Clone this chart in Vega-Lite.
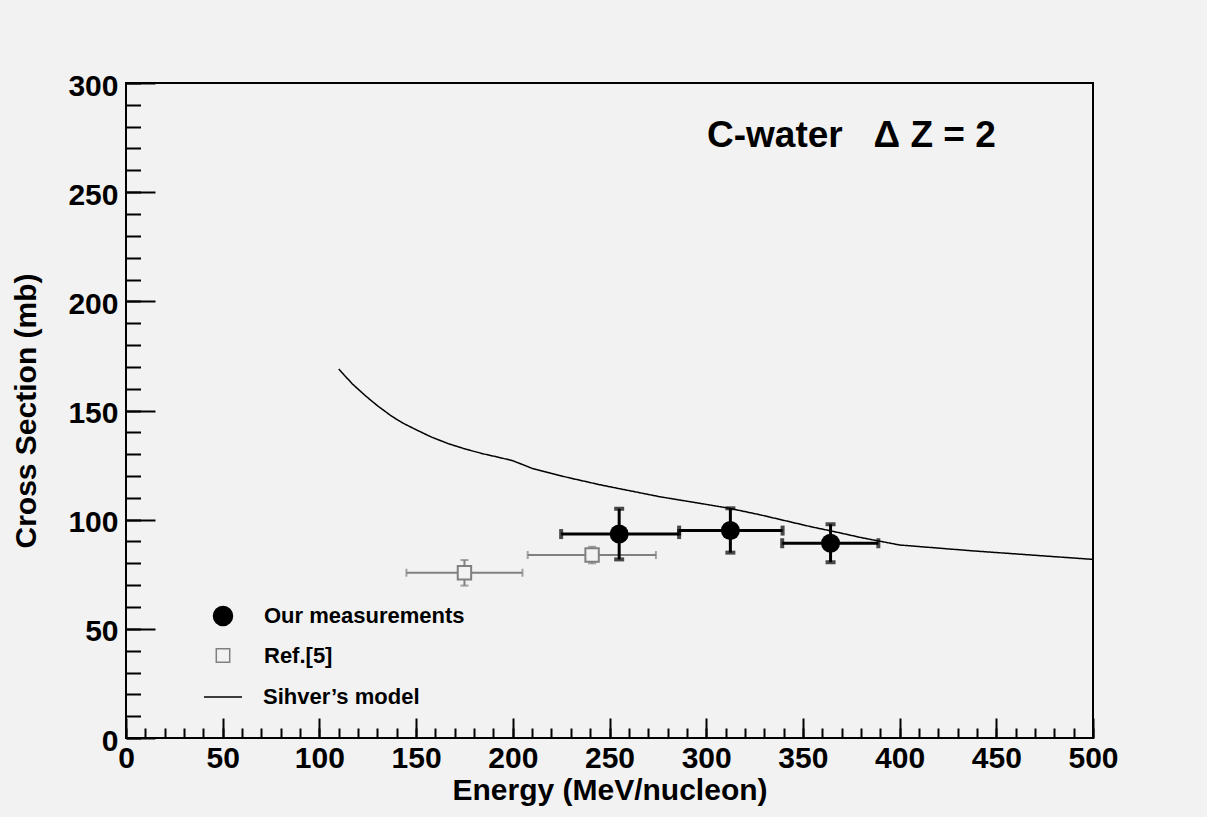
{
  "$schema": "https://vega.github.io/schema/vega-lite/v6.json",
  "width": 967,
  "height": 655,
  "autosize": {"type": "none"},
  "padding": {"left": 126, "top": 83, "right": 114, "bottom": 79},
  "background": "#f2f2f2",
  "title": {
    "text": "C-water\u00a0\u00a0\u00a0Δ\u00a0Z\u00a0=\u00a02",
    "anchor": "start",
    "frame": "group",
    "orient": "top",
    "offset": -113,
    "dx": 581,
    "baseline": "alphabetic",
    "font": "Liberation Sans",
    "fontSize": 37,
    "fontWeight": "bold",
    "color": "black"
  },
  "resolve": {"axis": {"x": "independent", "y": "independent"}},
  "config": {
    "view": {"stroke": "black", "strokeWidth": 2, "fill": null},
    "axis": {
      "domain": false,
      "grid": false,
      "tickColor": "black",
      "tickWidth": 2,
      "labelFont": "Liberation Sans",
      "labelFontSize": 30,
      "labelFontWeight": "bold",
      "labelColor": "black",
      "titleFont": "Liberation Sans",
      "titleFontSize": 30,
      "titleFontWeight": "bold",
      "titleColor": "black",
      "labelFlush": false,
      "labelOverlap": false,
      "tickCount": 200
    },
    "legend": {
      "labelFont": "Liberation Sans",
      "labelFontSize": 22,
      "labelFontWeight": "bold",
      "labelColor": "black",
      "labelLimit": 0,
      "symbolStrokeWidth": 1.5
    }
  },
  "datasets": {
    "ours": [
      {"E": 255, "Elo": 225, "Ehi": 286, "sigma": 93.4, "slo": 81.8, "shi": 105.0, "series": "Our measurements"},
      {"E": 312.5, "Elo": 286, "Ehi": 339.5, "sigma": 95.0, "slo": 84.9, "shi": 105.2, "series": "Our measurements"},
      {"E": 364.3, "Elo": 339.3, "Ehi": 389, "sigma": 89.2, "slo": 80.5, "shi": 97.9, "series": "Our measurements"}
    ],
    "ref5": [
      {"E": 175, "Elo": 145, "Ehi": 205, "sigma": 75.7, "slo": 69.8, "shi": 81.5, "series": "Ref.[5]"},
      {"E": 241, "Elo": 207.7, "Ehi": 274, "sigma": 83.8, "slo": 80.0, "shi": 87.6, "series": "Ref.[5]"}
    ],
    "sihver": [
      {"E": 110, "sigma": 169, "series": "Sihver’s model"},
      {"E": 117, "sigma": 162.2, "series": "Sihver’s model"},
      {"E": 124, "sigma": 156.6, "series": "Sihver’s model"},
      {"E": 130, "sigma": 152.2, "series": "Sihver’s model"},
      {"E": 137, "sigma": 147.6, "series": "Sihver’s model"},
      {"E": 143, "sigma": 144.3, "series": "Sihver’s model"},
      {"E": 150, "sigma": 141.2, "series": "Sihver’s model"},
      {"E": 158, "sigma": 137.8, "series": "Sihver’s model"},
      {"E": 167, "sigma": 134.7, "series": "Sihver’s model"},
      {"E": 176, "sigma": 132.2, "series": "Sihver’s model"},
      {"E": 185, "sigma": 130.1, "series": "Sihver’s model"},
      {"E": 193, "sigma": 128.5, "series": "Sihver’s model"},
      {"E": 200, "sigma": 127, "series": "Sihver’s model"},
      {"E": 210, "sigma": 123.5, "series": "Sihver’s model"},
      {"E": 228, "sigma": 119.4, "series": "Sihver’s model"},
      {"E": 245, "sigma": 116, "series": "Sihver’s model"},
      {"E": 250, "sigma": 115.1, "series": "Sihver’s model"},
      {"E": 276, "sigma": 110.5, "series": "Sihver’s model"},
      {"E": 300, "sigma": 107, "series": "Sihver’s model"},
      {"E": 312, "sigma": 105.2, "series": "Sihver’s model"},
      {"E": 328, "sigma": 102.2, "series": "Sihver’s model"},
      {"E": 354, "sigma": 96.8, "series": "Sihver’s model"},
      {"E": 370, "sigma": 93.8, "series": "Sihver’s model"},
      {"E": 380, "sigma": 91.8, "series": "Sihver’s model"},
      {"E": 400, "sigma": 88.4, "series": "Sihver’s model"},
      {"E": 438, "sigma": 85.7, "series": "Sihver’s model"},
      {"E": 500, "sigma": 81.8, "series": "Sihver’s model"}
    ]
  },
  "layer": [
    {
      "data": {"name": "sihver"},
      "mark": {"type": "line", "color": "black", "strokeWidth": 1.5},
      "encoding": {
        "x": {
          "field": "E", "type": "quantitative",
          "scale": {"domain": [0, 500], "nice": false, "zero": false},
          "title": "Energy (MeV/nucleon)",
          "axis": {
            "orient": "bottom",
            "values": [0, 50, 100, 150, 200, 250, 300, 350, 400, 450, 500],
            "tickSize": -20,
            "labelPadding": 25,
            "titlePadding": 2
          }
        },
        "y": {
          "field": "sigma", "type": "quantitative",
          "scale": {"domain": [0, 300], "nice": false, "zero": false},
          "title": "Cross Section (mb)",
          "axis": {
            "orient": "left",
            "values": [0, 50, 100, 150, 200, 250, 300],
            "tickSize": -29,
            "labelPadding": 37,
            "labelOffset": 3,
            "titlePadding": 26
          }
        },
        "strokeDash": {
          "field": "series", "type": "nominal",
          "scale": {"domain": ["Sihver’s model"], "range": [[1, 0]]},
          "legend": {"orient": "none", "legendX": 77, "legendY": 594, "title": null, "padding": 0, "labelOffset": 20, "symbolSize": 1444, "symbolStrokeColor": "black", "symbolStrokeWidth": 1.5, "symbolType": "stroke"}
        }
      }
    },
    {
      "data": {"name": "ref5"},
      "mark": {"type": "errorbar", "color": "#808080", "rule": {"strokeWidth": 2}, "ticks": {"size": 8, "thickness": 2}},
      "encoding": {
        "x": {"field": "Elo", "type": "quantitative", "axis": null},
        "x2": {"field": "Ehi"},
        "y": {"field": "sigma", "type": "quantitative", "axis": null}
      }
    },
    {
      "data": {"name": "ref5"},
      "mark": {"type": "errorbar", "color": "#808080", "rule": {"strokeWidth": 2}, "ticks": {"size": 8, "thickness": 2}},
      "encoding": {
        "y": {"field": "slo", "type": "quantitative", "axis": null},
        "y2": {"field": "shi"},
        "x": {"field": "E", "type": "quantitative", "axis": null}
      }
    },
    {
      "data": {"name": "ref5"},
      "mark": {"type": "point", "filled": true, "strokeWidth": 2, "opacity": 1},
      "encoding": {
        "x": {"field": "E", "type": "quantitative", "axis": null},
        "y": {"field": "sigma", "type": "quantitative", "axis": null},
        "shape": {
          "field": "series", "type": "nominal",
          "scale": {"domain": ["Our measurements", "Ref.[5]"], "range": ["circle", "square"]},
          "legend": {"orient": "none", "legendX": 86, "legendY": 522, "title": null, "padding": 0, "rowPadding": 15.5, "labelOffset": 30}
        },
        "fill": {
          "field": "series", "type": "nominal",
          "scale": {"domain": ["Our measurements", "Ref.[5]"], "range": ["black", "#f2f2f2"]},
          "legend": {"orient": "none", "legendX": 86, "legendY": 522, "title": null, "padding": 0, "rowPadding": 15.5, "labelOffset": 30}
        },
        "stroke": {
          "field": "series", "type": "nominal",
          "scale": {"domain": ["Our measurements", "Ref.[5]"], "range": ["black", "#808080"]},
          "legend": {"orient": "none", "legendX": 86, "legendY": 522, "title": null, "padding": 0, "rowPadding": 15.5, "labelOffset": 30}
        },
        "size": {
          "field": "series", "type": "nominal",
          "scale": {"domain": ["Our measurements", "Ref.[5]"], "range": [361, 180]},
          "legend": {"orient": "none", "legendX": 86, "legendY": 522, "title": null, "padding": 0, "rowPadding": 15.5, "labelOffset": 30}
        }
      }
    },
    {
      "data": {"name": "ours"},
      "mark": {"type": "errorbar", "color": "black", "rule": {"strokeWidth": 3}, "ticks": {"size": 10, "thickness": 4}},
      "encoding": {
        "x": {"field": "Elo", "type": "quantitative", "axis": null},
        "x2": {"field": "Ehi"},
        "y": {"field": "sigma", "type": "quantitative", "axis": null}
      }
    },
    {
      "data": {"name": "ours"},
      "mark": {"type": "errorbar", "color": "black", "rule": {"strokeWidth": 3}, "ticks": {"size": 10, "thickness": 4}},
      "encoding": {
        "y": {"field": "slo", "type": "quantitative", "axis": null},
        "y2": {"field": "shi"},
        "x": {"field": "E", "type": "quantitative", "axis": null}
      }
    },
    {
      "data": {"name": "ours"},
      "mark": {"type": "point", "filled": true, "opacity": 1, "strokeWidth": 0},
      "encoding": {
        "x": {
          "field": "E", "type": "quantitative",
          "axis": {
            "orient": "bottom",
            "values": [0,10,20,30,40,50,60,70,80,90,100,110,120,130,140,150,160,170,180,190,200,210,220,230,240,250,260,270,280,290,300,310,320,330,340,350,360,370,380,390,400,410,420,430,440,450,460,470,480,490,500],
            "tickSize": -10,
            "labels": false,
            "title": null
          }
        },
        "y": {
          "field": "sigma", "type": "quantitative",
          "axis": {
            "orient": "left",
            "values": [0,10,20,30,40,50,60,70,80,90,100,110,120,130,140,150,160,170,180,190,200,210,220,230,240,250,260,270,280,290,300],
            "tickSize": -14.5,
            "labels": false,
            "title": null
          }
        },
        "shape": {"field": "series", "type": "nominal"},
        "fill": {"field": "series", "type": "nominal"},
        "stroke": {"field": "series", "type": "nominal"},
        "size": {"field": "series", "type": "nominal"}
      }
    }
  ]
}
